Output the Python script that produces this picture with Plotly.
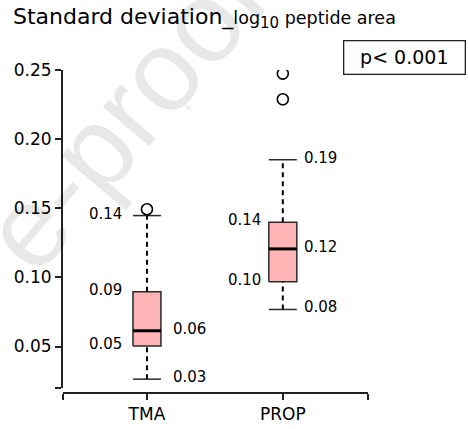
import plotly.graph_objects as go

# ---- data -------------------------------------------------------------
categories = ["TMA", "PROP"]
lower_whisker = [0.0264, 0.0768]
q1 = [0.0503, 0.0969]
median = [0.0614, 0.1206]
q3 = [0.0896, 0.1399]
upper_whisker = [0.1447, 0.1851]
outliers = [[0.1493], [0.2288, 0.2474]]
p_text = "p< 0.001"

y_ticks = [0.05, 0.10, 0.15, 0.20, 0.25]
y_tick_text = ["0.05", "0.10", "0.15", "0.20", "0.25"]

# ---- geometry / style --------------------------------------------------
W, H = 468, 429
M_L, M_R, M_T, M_B = 62.7, 100.0, 69.7, 36.3
plot_w = W - M_L - M_R
plot_h = H - M_T - M_B
X_RANGE = [0.382, 2.627]
Y_RANGE = [0.02, 0.25]
y_dom_bottom = 5.0 / plot_h          # x axis sits a few px below the y axis end
HALF_W = 0.103                        # half box width in x units
FILL = "#FFB5B5"
EDGE = "#2a2a2a"
FONT = "DejaVu Sans"


def paper_x(px):
    return (px - M_L) / plot_w


def paper_y(py):
    return (H - M_B - py) / plot_h


fig = go.Figure()

for i, cat in enumerate(categories):
    c = i + 1
    # box body
    fig.add_trace(go.Scatter(
        x=[c - HALF_W, c + HALF_W, c + HALF_W, c - HALF_W, c - HALF_W],
        y=[q1[i], q1[i], q3[i], q3[i], q1[i]],
        mode="lines", fill="toself", fillcolor=FILL,
        line=dict(color=EDGE, width=1.5), hoverinfo="skip", showlegend=False))
    # dashed whiskers
    for a, b in ((q3[i], upper_whisker[i]), (lower_whisker[i], q1[i])):
        fig.add_trace(go.Scatter(
            x=[c, c], y=[a, b], mode="lines",
            line=dict(color="black", width=2, dash="5px,4px"),
            hoverinfo="skip", showlegend=False))
    # whisker caps
    for v in (upper_whisker[i], lower_whisker[i]):
        fig.add_trace(go.Scatter(
            x=[c - HALF_W, c + HALF_W], y=[v, v], mode="lines",
            line=dict(color=EDGE, width=1.5), hoverinfo="skip", showlegend=False))
    # median
    fig.add_trace(go.Scatter(
        x=[c - HALF_W, c + HALF_W], y=[median[i], median[i]], mode="lines",
        line=dict(color="black", width=3), hoverinfo="skip", showlegend=False))
    # outliers
    fig.add_trace(go.Scatter(
        x=[c] * len(outliers[i]), y=outliers[i], mode="markers",
        marker=dict(symbol="circle-open", size=11, color="black",
                    line=dict(width=1.6)),
        hoverinfo="skip", showlegend=False))

# value labels next to each box
label_font = dict(family=FONT, size=15, color="black")
label_sides = [
    {"upper": "left", "q3": "left", "median": "right", "q1": "left", "lower": "right"},
    {"upper": "right", "q3": "left", "median": "right", "q1": "left", "lower": "right"},
]
offsets = [(-9, 10), (-6, 5.5)]
for i in range(len(categories)):
    c = i + 1
    stats = {"upper": upper_whisker[i], "q3": q3[i], "median": median[i],
             "q1": q1[i], "lower": lower_whisker[i]}
    for key, val in stats.items():
        side = label_sides[i][key]
        if side == "left":
            x, anchor, shift = c - HALF_W, "right", offsets[i][0]
        else:
            x, anchor, shift = c + HALF_W, "left", offsets[i][1]
        fig.add_annotation(
            x=x, y=val, text=f"{val:.2f}", showarrow=False,
            xanchor=anchor, yanchor="middle", xshift=shift, yshift=2,
            font=label_font)

# title with log10 subscript
fig.add_annotation(
    xref="paper", yref="paper", x=paper_x(10.5), y=paper_y(18),
    xanchor="left", yanchor="middle", showarrow=False,
    text=("Standard deviation_<span style='font-size:17.5px'>log"
          "<sub><span style='font-size:15px'>10</span></sub> peptide area</span>"),
    font=dict(family=FONT, size=22, color="black"))

# p-value box
fig.add_annotation(
    xref="paper", yref="paper", x=paper_x(404.7), y=paper_y(57.5),
    xanchor="center", yanchor="middle", showarrow=False,
    text=p_text, width=120, height=32, borderpad=0,
    bordercolor="#222", borderwidth=1.3, bgcolor="white",
    font=dict(family=FONT, size=19, color="black"))

# faint proof watermark
fig.add_annotation(
    xref="paper", yref="paper", x=paper_x(124), y=paper_y(114),
    xanchor="center", yanchor="middle", showarrow=False,
    text="e-proof", textangle=-49.5,
    font=dict(family="Liberation Sans", size=115, color="rgba(0,0,0,0.09)"))
fig.add_annotation(
    xref="paper", yref="paper", x=paper_x(188), y=paper_y(108),
    xanchor="center", yanchor="middle", showarrow=False,
    text="×", font=dict(family=FONT, size=12, color="rgba(0,0,0,0.13)"))

axis_common = dict(
    ticks="outside", ticklen=6, tickwidth=1.6, tickcolor="#222",
    showline=True, linecolor="#222", linewidth=2,
    showgrid=False, zeroline=False, automargin=False,
    tickfont=dict(family=FONT, size=17, color="black"))

fig.update_layout(
    width=W, height=H,
    margin=dict(l=M_L, r=M_R, t=M_T, b=M_B, pad=0, autoexpand=False),
    plot_bgcolor="white", paper_bgcolor="white",
    showlegend=False,
    xaxis=dict(
        range=X_RANGE, anchor="free", position=0,
        tickmode="array", tickvals=[1, 2], ticktext=categories,
        minor=dict(tickmode="array", tickvals=[X_RANGE[0] + 1e-6, X_RANGE[1] - 1e-6],
                   ticks="outside", ticklen=6, tickwidth=1.6, tickcolor="#222",
                   showgrid=False),
        **axis_common),
    yaxis=dict(
        range=Y_RANGE, domain=[y_dom_bottom, 1],
        tickmode="array", tickvals=y_ticks, ticktext=y_tick_text,
        minor=dict(tickmode="array", tickvals=[Y_RANGE[0] + 1e-6],
                   ticks="outside", ticklen=6, tickwidth=1.6, tickcolor="#222",
                   showgrid=False),
        **axis_common),
)

fig.write_html("out.html")
